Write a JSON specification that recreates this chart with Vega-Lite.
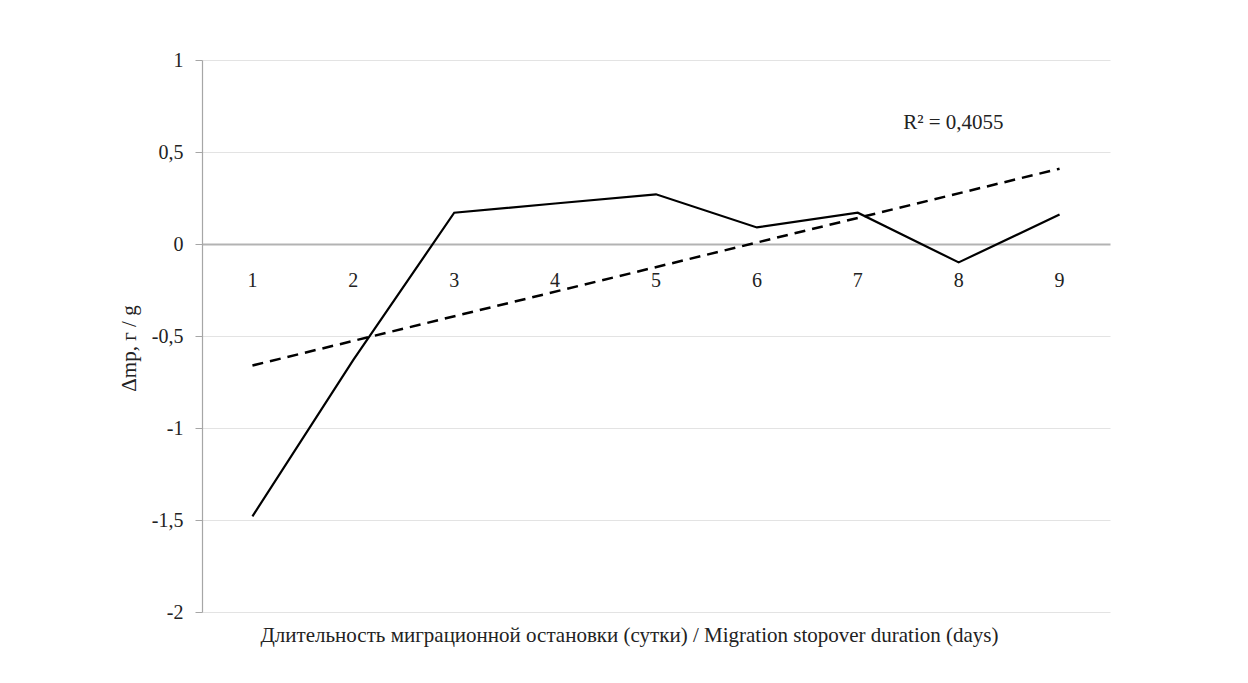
{
  "$schema": "https://vega.github.io/schema/vega-lite/v6.json",
  "autosize": {"type": "none"},
  "padding": {"left": 202, "top": 60, "right": 138, "bottom": 71},
  "width": 908,
  "height": 552,
  "background": "white",
  "config": {
    "view": {"stroke": null},
    "font": "Liberation Serif",
    "axis": {"labelFont": "Liberation Serif", "titleFont": "Liberation Serif", "labelColor": "#222", "titleColor": "#222", "titleFontWeight": "normal"}
  },
  "datasets": {
    "series": [
      {"day": 1, "dm": -1.48},
      {"day": 2, "dm": -0.63},
      {"day": 3, "dm": 0.17},
      {"day": 4, "dm": 0.22},
      {"day": 5, "dm": 0.27},
      {"day": 6, "dm": 0.09},
      {"day": 7, "dm": 0.17},
      {"day": 8, "dm": -0.10},
      {"day": 9, "dm": 0.16}
    ],
    "note": [{"day": 7.45, "dm": 0.625, "label": "R² = 0,4055"}]
  },
  "layer": [
    {
      "data": {"name": "series"},
      "mark": {"type": "line", "color": "black", "strokeWidth": 2.2, "clip": false},
      "encoding": {
        "x": {
          "field": "day", "type": "quantitative",
          "scale": {"domain": [0.5, 9.5], "nice": false, "zero": false},
          "axis": {
            "labels": false, "ticks": false, "domain": false, "grid": false,
            "title": "Длительность миграционной остановки (сутки) / Migration stopover duration (days)",
            "titleFontSize": 21, "titleX": 427, "titleY": 29, "titleAlign": "center", "titleBaseline": "alphabetic"
          }
        },
        "y": {
          "field": "dm", "type": "quantitative",
          "scale": {"domain": [-2, 1], "nice": false, "zero": false},
          "axis": {
            "values": [-2, -1.5, -1, -0.5, 0, 0.5, 1],
            "labelExpr": "replace('' + datum.value, '.', ',')",
            "labelFontSize": 20, "labelPadding": 12,
            "tickSize": 7, "tickColor": "#a6a6a6",
            "domainColor": "#a6a6a6", "domainWidth": 1.2,
            "grid": true, "gridColor": {"condition": {"test": "datum.value === 0", "value": "#b3b3b3"}, "value": "#e3e3e3"},
            "gridWidth": {"condition": {"test": "datum.value === 0", "value": 1.8}, "value": 1.2},
            "title": "Δmp, г / g", "titleFontSize": 21, "titlePadding": 12, "titleY": 288
          }
        }
      }
    },
    {
      "data": {"name": "series"},
      "transform": [{"regression": "dm", "on": "day"}],
      "mark": {"type": "line", "color": "black", "strokeWidth": 2.5, "strokeDash": [11, 7]},
      "encoding": {
        "x": {"field": "day", "type": "quantitative"},
        "y": {"field": "dm", "type": "quantitative"}
      }
    },
    {
      "data": {"name": "series"},
      "mark": {"type": "text", "fontSize": 20, "color": "#222", "baseline": "alphabetic", "dy": 43},
      "encoding": {
        "x": {"field": "day", "type": "quantitative"},
        "y": {"datum": 0},
        "text": {"field": "day", "type": "nominal"}
      }
    },
    {
      "data": {"name": "note"},
      "mark": {"type": "text", "fontSize": 21, "color": "#222", "align": "left", "baseline": "alphabetic"},
      "encoding": {
        "x": {"field": "day", "type": "quantitative"},
        "y": {"field": "dm", "type": "quantitative"},
        "text": {"field": "label"}
      }
    }
  ]
}
